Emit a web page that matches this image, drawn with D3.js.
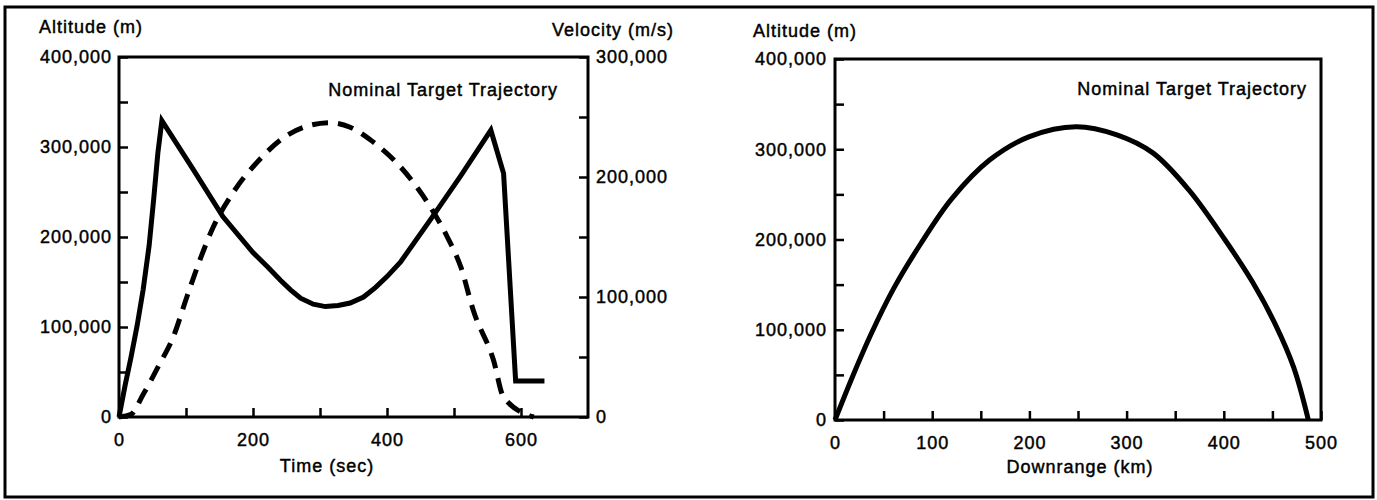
<!DOCTYPE html>
<html><head>
<meta charset="utf-8">
<title>Nominal Target Trajectory</title>
<script src="https://d3js.org/d3.v7.min.js"></script>
<style>
  body { margin: 0; background: #fff; }
  svg text { font-family: "Liberation Sans", Arial, sans-serif; font-size: 18px; letter-spacing: 1px; fill: #000; stroke: #000; stroke-width: 0.45px; }
</style>
</head>
<body>
<div id="chart"></div>
<script>
// --- data ---
// left chart: time (sec) vs altitude (m, dashed, left axis) and velocity (m/s, solid, right axis)
const altTime = [0, 18, 36, 60, 81, 102, 121, 140, 170, 211, 245, 280, 315, 345, 375, 420, 465, 490, 510, 529, 559, 574, 619];
const altValue = [0, 3000, 25000, 58000, 89000, 135000, 175000, 210000, 249000, 287000, 310000, 323000, 327000, 322000, 308000, 278000, 233000, 200000, 167000, 118000, 63000, 22000, 0];

const velTime = [0, 9, 18, 27, 36, 45, 52, 58, 64, 110, 155, 200, 222, 241, 256, 271, 290, 308, 327, 345, 365, 383, 400, 420, 468, 510, 555, 574, 592, 635];
const velValue = [0, 26000, 50000, 76000, 106000, 143000, 183000, 220000, 247000, 207000, 167000, 137000, 125000, 114000, 106000, 99000, 94000, 92000, 93000, 95000, 100000, 108000, 117000, 129000, 167000, 201000, 239000, 203000, 30000, 30000];

// right chart: downrange (km) vs altitude (m)
const rangeKm = [0, 18, 37, 60, 88, 120, 159, 200, 248, 290, 327, 364, 401, 430, 453, 472, 487];
const rangeAlt = [0, 48000, 95000, 145000, 195000, 245000, 288000, 314000, 325000, 316000, 296000, 255000, 200000, 152000, 106000, 58000, 0];

const altTicks = d3.range(0, 400001, 50000);
const velTicks = d3.range(0, 300001, 50000);
const timeTicks = d3.range(0, 601, 100);
const kmTicks = d3.range(0, 501, 50);

const width = 1377, height = 500;
const fmt = d3.format(",");

const svg = d3.select("#chart").append("svg")
  .attr("width", width)
  .attr("height", height);

// outer frame
svg.append("rect")
  .attr("x", 5).attr("y", 7)
  .attr("width", 1368).attr("height", 490)
  .attr("fill", "none").attr("stroke", "#000").attr("stroke-width", 3);

// style helper for axes: thick black lines, inward ticks
function styleAxis(g) {
  g.select(".domain").remove();
  g.selectAll(".tick line").attr("stroke", "#000").attr("stroke-width", 2.5);
  g.selectAll(".tick text").attr("font-size", null).attr("font-family", null);
}

// ---------------- left chart ----------------
const L = { left: 119, right: 588, top: 57, bottom: 417 };
const xTime = d3.scaleLinear().domain([0, 700]).range([L.left, L.right]);
const yAlt = d3.scaleLinear().domain([0, 400000]).range([L.bottom, L.top]);
const yVel = d3.scaleLinear().domain([0, 300000]).range([L.bottom, L.top]);

const left = svg.append("g");

left.append("g")
  .attr("transform", "translate(" + L.left + ",0)")
  .call(d3.axisLeft(yAlt).tickValues(altTicks).tickSize(-9).tickPadding(7)
    .tickFormat(d => d % 100000 === 0 ? fmt(d) : ""))
  .call(styleAxis);

left.append("g")
  .attr("transform", "translate(" + L.right + ",0)")
  .call(d3.axisRight(yVel).tickValues(velTicks).tickSize(-9).tickPadding(8)
    .tickFormat(d => d % 100000 === 0 ? fmt(d) : ""))
  .call(styleAxis);

left.append("g")
  .attr("transform", "translate(0," + L.bottom + ")")
  .call(d3.axisBottom(xTime).tickValues(timeTicks).tickSize(-9).tickPadding(16)
    .tickFormat(d => d % 200 === 0 ? d : ""))
  .call(styleAxis);

left.append("rect")
  .attr("x", L.left).attr("y", L.top)
  .attr("width", L.right - L.left).attr("height", L.bottom - L.top)
  .attr("fill", "none").attr("stroke", "#000").attr("stroke-width", 3);

const altLine = d3.line()
  .x((d, i) => xTime(altTime[i]))
  .y(d => yAlt(d))
  .curve(d3.curveMonotoneX);

left.append("path")
  .datum(altValue)
  .attr("d", altLine)
  .attr("fill", "none").attr("stroke", "#000")
  .attr("stroke-width", 5).attr("stroke-dasharray", "16,10");

const velLine = d3.line()
  .x((d, i) => xTime(velTime[i]))
  .y(d => yVel(d));

left.append("path")
  .datum(velValue)
  .attr("d", velLine)
  .attr("fill", "none").attr("stroke", "#000")
  .attr("stroke-width", 5).attr("stroke-linejoin", "miter");

left.append("text").attr("x", 39).attr("y", 33).text("Altitude (m)");
left.append("text").attr("x", 674).attr("y", 36).attr("text-anchor", "end").text("Velocity (m/s)");
left.append("text").attr("x", 558).attr("y", 96).attr("text-anchor", "end").text("Nominal Target Trajectory");
left.append("text").attr("x", 327).attr("y", 472).attr("text-anchor", "middle").text("Time (sec)");

// ---------------- right chart ----------------
const R = { left: 835, right: 1321, top: 59, bottom: 420 };
const xKm = d3.scaleLinear().domain([0, 500]).range([R.left, R.right]);
const yAlt2 = d3.scaleLinear().domain([0, 400000]).range([R.bottom, R.top]);

const right = svg.append("g");

right.append("g")
  .attr("transform", "translate(" + R.left + ",0)")
  .call(d3.axisLeft(yAlt2).tickValues(altTicks).tickSize(-9).tickPadding(8)
    .tickFormat(d => d % 100000 === 0 ? fmt(d) : ""))
  .call(styleAxis);

right.append("g")
  .attr("transform", "translate(0," + R.bottom + ")")
  .call(d3.axisBottom(xKm).tickValues(kmTicks).tickSize(-9).tickPadding(16)
    .tickFormat(d => d % 100 === 0 ? d : ""))
  .call(styleAxis);

right.append("rect")
  .attr("x", R.left).attr("y", R.top)
  .attr("width", R.right - R.left).attr("height", R.bottom - R.top)
  .attr("fill", "none").attr("stroke", "#000").attr("stroke-width", 3);

const trajLine = d3.line()
  .x((d, i) => xKm(rangeKm[i]))
  .y(d => yAlt2(d))
  .curve(d3.curveCatmullRom.alpha(0.5));

right.append("path")
  .datum(rangeAlt)
  .attr("d", trajLine)
  .attr("fill", "none").attr("stroke", "#000").attr("stroke-width", 5);

right.append("text").attr("x", 753).attr("y", 37).text("Altitude (m)");
right.append("text").attr("x", 1307).attr("y", 95).attr("text-anchor", "end").text("Nominal Target Trajectory");
right.append("text").attr("x", 1080).attr("y", 473).attr("text-anchor", "middle").text("Downrange (km)");
</script>
</body>
</html>
